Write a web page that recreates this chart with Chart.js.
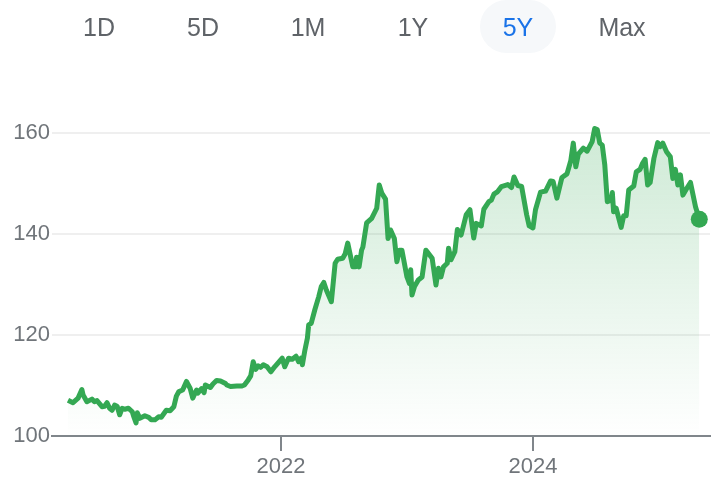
<!DOCTYPE html>
<html>
<head>
<meta charset="utf-8">
<script src="https://cdn.jsdelivr.net/npm/chart.js@4"></script>
<style>
  html, body { margin: 0; padding: 0; background: #fff; }
  body { width: 728px; height: 486px; position: relative; overflow: hidden; font-family: "Liberation Sans", Arial, sans-serif; }
  #chartBox { position: absolute; left: 0; top: 0; width: 728px; height: 486px; }
  .tab { position: absolute; top: 0; width: 76px; height: 53px; line-height: 55px; text-align: center; font-size: 25px; color: #5f6368; }
  .tab.on { color: #1a73e8; background: #f6f8fa; border-radius: 27px; }
</style>
</head>
<body>
<div id="chartBox"><canvas id="myChart"></canvas></div>
<div id="tabs"></div>
<script>
// range buttons
let ranges = ['1D', '5D', '1M', '1Y', '5Y', 'Max'];
let rangeCenters = [99, 203, 308, 413, 518, 622];
let activeRange = '5Y';

// price history, x in decimal years
let years = [
  2020.31, 2020.35, 2020.39, 2020.42, 2020.43, 2020.46, 2020.50, 2020.52, 2020.54, 2020.58,
  2020.60, 2020.62, 2020.64, 2020.66, 2020.68, 2020.70, 2020.72, 2020.74, 2020.76, 2020.79,
  2020.82, 2020.83, 2020.85, 2020.86, 2020.88, 2020.92, 2020.95, 2020.97, 2021.00, 2021.03,
  2021.05, 2021.09, 2021.12, 2021.15, 2021.17, 2021.19, 2021.22, 2021.25, 2021.28, 2021.30,
  2021.33, 2021.34, 2021.37, 2021.39, 2021.40, 2021.44, 2021.46, 2021.49, 2021.52, 2021.56,
  2021.57, 2021.60, 2021.65, 2021.69, 2021.71, 2021.74, 2021.76, 2021.78, 2021.80, 2021.82,
  2021.84, 2021.86, 2021.89, 2021.92, 2021.95, 2022.01, 2022.03, 2022.06, 2022.09, 2022.12,
  2022.14, 2022.16, 2022.17, 2022.19, 2022.21, 2022.22, 2022.24, 2022.27, 2022.30, 2022.32,
  2022.34, 2022.36, 2022.40, 2022.43, 2022.45, 2022.49, 2022.51, 2022.53, 2022.57, 2022.59,
  2022.60, 2022.62, 2022.64, 2022.65, 2022.68, 2022.72, 2022.76, 2022.78, 2022.80, 2022.83,
  2022.85, 2022.87, 2022.90, 2022.92, 2022.94, 2022.96, 2023.00, 2023.02, 2023.03, 2023.04,
  2023.06, 2023.09, 2023.12, 2023.15, 2023.20, 2023.23, 2023.25, 2023.27, 2023.29, 2023.32,
  2023.33, 2023.35, 2023.38, 2023.40, 2023.43, 2023.47, 2023.50, 2023.53, 2023.55, 2023.59,
  2023.61, 2023.65, 2023.67, 2023.69, 2023.72, 2023.75, 2023.80, 2023.83, 2023.85, 2023.88,
  2023.91, 2023.95, 2023.97, 2024.00, 2024.02, 2024.06, 2024.10, 2024.14, 2024.16, 2024.19,
  2024.23, 2024.27, 2024.30, 2024.32, 2024.34, 2024.36, 2024.40, 2024.43, 2024.47, 2024.49,
  2024.51, 2024.53, 2024.55, 2024.57, 2024.59, 2024.62, 2024.63, 2024.64, 2024.66, 2024.70,
  2024.72, 2024.74, 2024.76, 2024.80, 2024.82, 2024.85, 2024.87, 2024.89, 2024.91, 2024.93,
  2024.96, 2024.99, 2025.01, 2025.03, 2025.06, 2025.09, 2025.11, 2025.13, 2025.15, 2025.17,
  2025.19, 2025.22, 2025.25, 2025.29, 2025.32
];
let prices = [
  107.1, 106.6, 107.5, 109.2, 108.1, 106.8, 107.3, 106.8, 107.0, 105.8,
  105.9, 106.6, 105.5, 105.1, 106.1, 105.9, 104.2, 105.5, 105.3, 105.5,
  104.8, 104.0, 102.6, 104.6, 103.5, 104.0, 103.7, 103.2, 103.2, 103.8,
  103.7, 105.1, 105.0, 105.8, 107.9, 108.8, 109.1, 110.8, 109.4, 107.5,
  109.1, 108.5, 109.4, 108.6, 110.1, 109.6, 110.3, 111.0, 110.9, 110.4,
  110.1, 109.8, 109.9, 109.9, 110.1, 111.1, 111.9, 114.7, 113.2, 113.9,
  113.6, 114.1, 113.7, 112.7, 113.7, 115.4, 113.7, 115.4, 115.2, 115.8,
  114.7, 115.4, 114.1, 117.0, 119.4, 122.0, 122.3, 125.1, 127.6, 129.6,
  130.4, 128.9, 126.6, 134.2, 135.0, 135.2, 136.1, 138.2, 133.5, 133.5,
  135.4, 133.5, 136.8, 137.4, 142.2, 143.1, 145.1, 149.7, 148.1, 146.9,
  139.1, 140.8, 139.1, 134.5, 136.8, 136.8, 131.5, 130.2, 132.9, 127.9,
  129.6, 130.9, 131.5, 136.8, 135.2, 129.9, 133.2, 131.5, 133.5, 134.2,
  137.2, 134.9, 136.5, 140.9, 139.8, 143.8, 144.8, 139.2, 142.1, 141.6,
  144.9, 146.4, 146.7, 147.9, 148.4, 149.4, 149.8, 149.2, 151.3, 149.6,
  149.4, 143.8, 141.6, 141.2, 144.8, 148.3, 148.5, 150.5, 150.4, 147.1,
  151.2, 151.9, 154.5, 158.0, 153.3, 155.8, 157.0, 156.4, 158.3, 160.9,
  160.7, 158.0, 157.6, 153.7, 146.4, 146.7, 148.2, 144.4, 145.1, 141.3,
  143.6, 143.6, 148.7, 149.5, 152.3, 152.8, 154.0, 154.8, 149.7, 150.2,
  155.0, 158.1, 157.3, 158.0, 156.3, 155.3, 151.0, 152.8, 149.7, 151.7,
  147.7, 149.0, 150.2, 145.4, 142.9
];
let yTicks = [100, 120, 140, 160];
let xTicks = [2022, 2024];

let tabBox = document.getElementById('tabs');
for (let i = 0; i < ranges.length; i++) {
  let d = document.createElement('div');
  d.className = 'tab' + (ranges[i] === activeRange ? ' on' : '');
  d.style.left = (rangeCenters[i] - 38) + 'px';
  d.textContent = ranges[i];
  tabBox.append(d);
}

let green = '#34a853';
let lastIdx = prices.length - 1;

let ctx = document.getElementById('myChart').getContext('2d');
let chart = new Chart(ctx, {
  type: 'line',
  data: {
    datasets: [{
      data: years.map((x, i) => ({ x: x, y: prices[i] })),
      borderColor: green,
      borderWidth: 5,
      borderJoinStyle: 'round',
      tension: 0,
      fill: 'start',
      backgroundColor: function (c) {
        let area = c.chart.chartArea;
        if (!area) return 'rgba(52,168,83,0.15)';
        let g = c.chart.ctx.createLinearGradient(0, area.top, 0, area.bottom);
        g.addColorStop(0, 'rgba(52,168,83,0.28)');
        g.addColorStop(1, 'rgba(52,168,83,0)');
        return g;
      },
      pointRadius: c => c.dataIndex === lastIdx ? 8.5 : 0,
      pointBackgroundColor: green,
      pointBorderWidth: 0,
      pointHoverRadius: 0
    }]
  },
  options: {
    responsive: true,
    maintainAspectRatio: false,
    animation: false,
    events: [],
    layout: { padding: { top: 82.5, right: 18, left: 0, bottom: 0 } },
    plugins: { legend: { display: false }, tooltip: { enabled: false } },
    scales: {
      x: {
        type: 'linear',
        min: 2020.183,
        max: 2025.405,
        afterBuildTicks: s => { s.ticks = xTicks.map(v => ({ value: v })); },
        afterFit: s => { s.height = 50; },
        ticks: {
          callback: v => String(v),
          color: '#70757a',
          font: { family: 'Liberation Sans, Arial', size: 22 },
          padding: 3,
          maxRotation: 0
        },
        grid: { drawOnChartArea: false, drawTicks: true, tickLength: 15, color: '#80868b', lineWidth: 2 },
        border: { display: true, color: '#80868b', width: 2 }
      },
      y: {
        min: 100,
        max: 170,
        afterBuildTicks: s => { s.ticks = yTicks.map(v => ({ value: v })); },
        afterFit: s => { s.width = 52; },
        ticks: {
          color: '#70757a',
          font: { family: 'Liberation Sans, Arial', size: 22 },
          padding: 2
        },
        grid: { drawTicks: false, color: c => c.tick && c.tick.value === 100 ? 'rgba(0,0,0,0)' : '#efefef', lineWidth: 2 },
        border: { display: false }
      }
    }
  }
});
</script>
</body>
</html>
